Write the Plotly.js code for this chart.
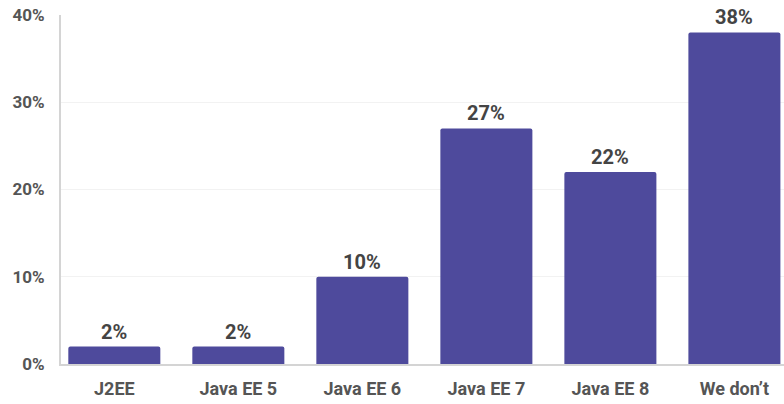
<!DOCTYPE html>
<html><head><meta charset="utf-8">
<script src="https://cdn.plot.ly/plotly-3.0.1.min.js"></script>
<style>html,body{margin:0;padding:0;background:#fff}#c{width:784px;height:404px}</style>
</head><body><div id="c"></div>
<script>
const categories = ["J2EE", "Java EE 5", "Java EE 6", "Java EE 7", "Java EE 8", "We don’t"];
const values = [2, 2, 10, 27, 22, 38];
const yTicks = [0, 10, 20, 30, 40];
const yTickLabels = ["0%", "10%", "20%", "30%", "40%"];

const labelAnnotations = categories.map((c, i) => ({
  x: c, y: values[i], xref: "x", yref: "y",
  text: values[i] + "%", showarrow: false,
  yanchor: "bottom", yshift: 1,
  font: {family: "Roboto", size: 20, color: "#444", weight: 700}
}));

Plotly.newPlot("c", [{
  type: "bar",
  x: categories,
  y: values,
  marker: {color: "#4e4a9c"},
  hoverinfo: "none"
}], {
  width: 784, height: 404,
  margin: {l: 61, r: 0, t: 15, b: 40},
  paper_bgcolor: "#fff", plot_bgcolor: "#fff",
  bargap: 0.258,
  barcornerradius: 2,
  font: {family: "Roboto", color: "#555"},
  showlegend: false,
  annotations: labelAnnotations,
  xaxis: {
    range: [-0.43, 5.4],
    showline: true, linecolor: "#d4d4d4", linewidth: 2,
    ticks: "", showgrid: false,
    ticklabelstandoff: 7,
    tickfont: {family: "Roboto", size: 18, color: "#555", weight: 700},
    fixedrange: true
  },
  yaxis: {
    range: [0, 40],
    tickvals: yTicks, ticktext: yTickLabels,
    showline: true, linecolor: "#d4d4d4", linewidth: 2,
    showgrid: true, gridcolor: "#f2f2f2", gridwidth: 1,
    zeroline: false, ticks: "",
    ticklabelstandoff: 11,
    tickfont: {family: "Roboto", size: 17, color: "#555", weight: 700},
    fixedrange: true
  }
}, {displayModeBar: false, staticPlot: true});
</script></body></html>
